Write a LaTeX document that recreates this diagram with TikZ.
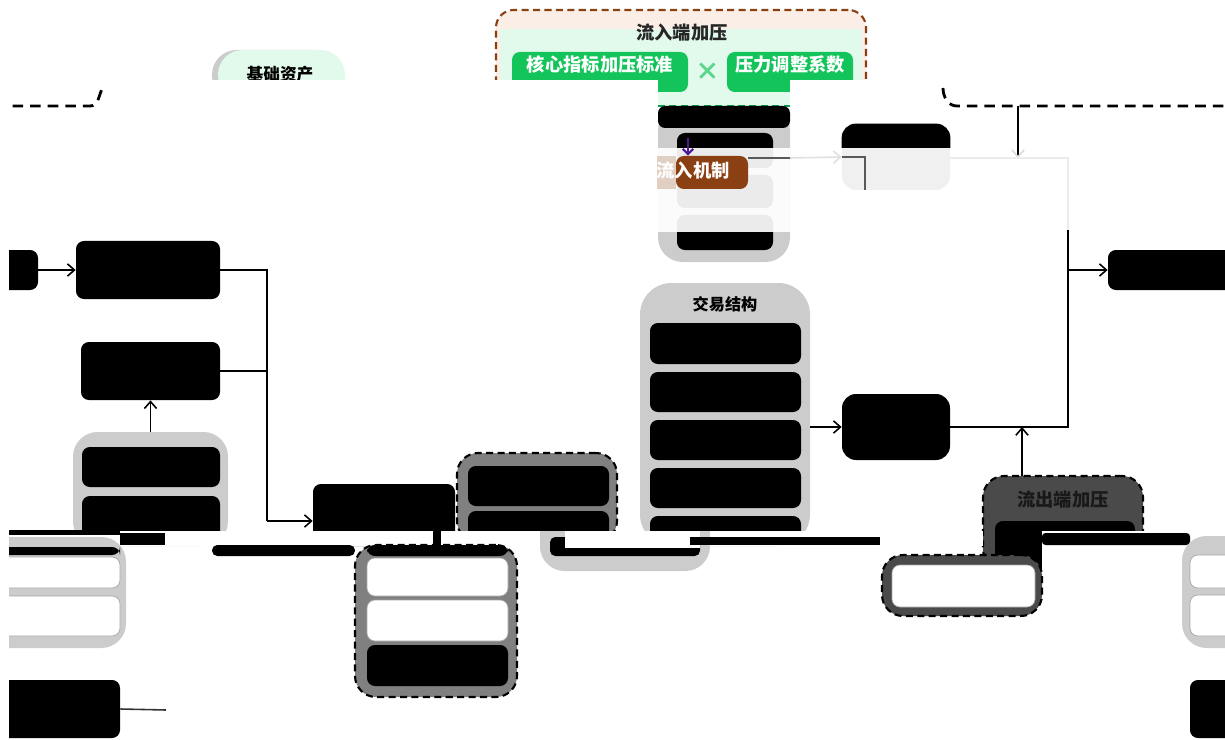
\documentclass[tikz,border=0pt]{standalone}
\usepackage{fontspec}
\setmainfont{Noto Sans CJK SC}
\usetikzlibrary{arrows.meta,fit}

\definecolor{verdeForte}{HTML}{13C45B}
\definecolor{verdeTenue}{HTML}{E2FAEB}
\definecolor{pesca}{HTML}{FBEEE6}
\definecolor{marrone}{HTML}{8A4012}
\definecolor{viola}{HTML}{4A1A99}

\begin{document}
\begin{tikzpicture}[x=0.02cm, y=-0.02cm,
    box/.style={inner sep=0pt, rounded corners=4.5pt, fit={#1}},
    nero/.style={box={#1}, fill=black},
    riga/.style={box={#1}, fill=white, draw=black!35, line width=0.4pt},
    gruppo/.style={box={#1}, fill=black!20, rounded corners=10pt},
    tratto/.style={draw=black, line width=1.2pt, dash pattern=on 4pt off 2.5pt},
    lungo/.style={line width=1.6pt, dash pattern=on 6pt off 4pt},
    titolo/.style={font=\fontsize{10.4}{12}\selectfont\bfseries},
    linea/.style={line width=0.9pt},
    freccia/.style={linea, -{Straight Barb[length=4pt, width=7pt]}},
]
    % Definizione dei colori dei gruppi
    \def\grigioChiaro{black!20}
    \def\grigioMedio{black!50}
    \def\grigioScuro{black!71}

    \useasboundingbox (0,0) rectangle (1225,740);
    \clip (9,0) rectangle (1225,740);

    % Gruppo in alto: flusso in entrata
    \node[box={(496,10) (866,100)}, fill=pesca, rounded corners=10pt, tratto, draw=marrone] (ingressoPress) {};
    \fill[verdeTenue] (500,29) rectangle (862,106);
    \node[titolo, text=black!85] (ingressoTitolo) at (682,33) {流入端加压};
    \node[box={(512,52) (688,92)}, fill=verdeForte, text=white, titolo] (core) {核心指标加压标准};
    \node[box={(727,52) (853,92)}, fill=verdeForte, text=white, titolo] (coeff) {压力调整系数};
    \node[font=\fontsize{14}{14}\selectfont\bfseries, text=verdeForte!70] (per) at (708,72) {×};

    % Attivi di base
    \node[box={(212,50) (335,100)}, fill=\grigioChiaro, rounded corners=14pt] (baseOmbra) {};
    \node[box={(218,50) (345,100)}, fill=verdeTenue, rounded corners=14pt] (base) {};
    \node[titolo, font=\fontsize{9.5}{11}\selectfont\bfseries] (baseTitolo) at (280,74) {基础资产};

    % Banda bianca che taglia la parte alta
    \fill[white] (0,80) rectangle (658,108);
    \fill[white] (790,80) rectangle (1225,108);

    % Meccanismo di entrata
    \node[gruppo={(658,106) (790,262)}, rounded corners=14pt] (meccanismo) {};
    \draw[verdeForte!80!black, line width=1.2pt, dash pattern=on 4pt off 2.5pt] (658,106) -- (790,106);
    \fill[black, rounded corners=4pt] (658,106) rectangle (790,128);
    \node[nero={(677,133) (773,168)}] (m1) {};
    \node[nero={(677,175) (773,208)}] (m2) {};
    \node[nero={(677,215) (773,250)}] (m3) {};
    \fill[white, opacity=0.92] (657,148) rectangle (790,232);
    \fill[marrone!25] (657,156) rectangle (676,189);
    \node[box={(676,156) (748,189)}, fill=marrone] (flusso) {};
    \node[titolo, text=white] (flussoTesto) at (693,171) {流入机制};
    \coordinate (viaInizio) at (688,138);
    \draw[viola, line width=1.2pt, -{Straight Barb[length=3pt, width=6pt]}] (viaInizio) -- (viaInizio |- flusso.north);

    % Esito in alto a destra
    \node[box={(842,124) (950,190)}, fill=black!6, rounded corners=8pt] (esito) {};
    \begin{scope}
        \clip (800,100) rectangle (1000,148);
        \fill[black, rounded corners=8pt] (esito.north west) rectangle (esito.south east);
    \end{scope}
    \coordinate (partenza) at (748,158);
    \coordinate (svolta) at (790,158);
    \coordinate (gomito) at (865,190);
    \draw[linea, black!65] (partenza) -- (svolta);
    \draw[freccia, black!12] (svolta) -- (esito.west);
    \draw[linea, black!65] (esito.west) -| (gomito);

    % Linee tratteggiate in alto
    \draw[lungo] (-5,106) -- (90,106) to[out=0, in=-120] (103,87);
    \draw[lungo] (943,88) to[out=-90, in=180] (957,106) -- (1230,106);
    \coordinate (presa) at (1018,106);
    \coordinate (arrivo) at (1018,158);
    \coordinate (cimaDx) at (1068,230);
    \draw[linea, -{Straight Barb[length=4pt, width=7pt, color=black!15]}] (presa) -- (arrivo);
    \draw[black!8, line width=1pt] (esito.east |- arrivo) -- (arrivo -| cimaDx) -- (cimaDx);

    % Colonna di sinistra
    \node[nero={(-5,250) (38,290)}] (ingresso) {};
    \node[nero={(76,241) (220,299)}] (A) {};
    \node[nero={(81,342) (220,400)}] (B) {};
    \node[gruppo={(73,432) (228,546)}, rounded corners=14pt] (C) {};
    \node[nero={(82,447) (220,487)}] (c1) {};
    \node[nero={(82,496) (220,540)}] (c2) {};
    \draw[freccia] (ingresso) -- (A);
    \draw[freccia] (C.north) -- (B.south);

    % Raccordo verso il centro
    \node[nero={(313,484) (455,546)}] (D) {};
    \coordinate (giunto) at (267,521);
    \draw[linea] (A.east) -| (giunto);
    \draw[linea] (B.east) -- (B.east -| giunto);
    \draw[freccia] (giunto) -- (giunto -| D.west);

    % Gruppo tratteggiato centrale
    \node[box={(457,453) (617,542)}, fill=\grigioMedio, rounded corners=12pt, tratto] (pressione) {};
    \node[nero={(468,466) (609,506)}] (p1) {};
    \node[nero={(468,511) (609,545)}] (p2) {};

    % Struttura della transazione
    \node[gruppo={(640,283) (810,546)}, rounded corners=18pt] (T) {};
    \node[titolo, font=\fontsize{9.2}{11}\selectfont\bfseries] (TTitolo) at (725,304) {交易结构};
    \foreach \ya/\yb [count=\i] in {323/364, 372/412, 420/460, 468/508, 516/545}
        \node[nero={(650,\ya) (801,\yb)}] (t\i) {};
    \node[nero={(842,394) (950,460)}, rounded corners=8pt] (F) {};
    \draw[freccia] (F.west -| T.east) -- (F.west);

    % Uscita a destra
    \node[nero={(1108,250) (1240,290)}] (G) {};
    \coordinate (nodoDx) at (F.east -| cimaDx);
    \draw[linea] (F.east) -- (nodoDx) -- (cimaDx);
    \draw[freccia] (G.west -| cimaDx) -- (G.west);

    % Flusso in uscita
    \node[box={(983,476) (1143,570)}, fill=\grigioScuro, rounded corners=12pt, tratto] (H) {};
    \node[titolo, text=black!90] (HTitolo) at (1063,500) {流出端加压};
    \node[nero={(995,521) (1135,570)}] (h1) {};
    \coordinate (uscita) at (1022,476);
    \draw[freccia] (uscita) -- (uscita |- F.east);

    % Banda bianca in basso
    \fill[white] (0,531) rectangle (983,546);
    \fill[white] (1042,531) rectangle (1225,574);

    % Parte bassa spostata
    \fill[black] (9,530) rectangle (120,535);
    \fill[\grigioChiaro, rounded corners=14pt] (-20,537) -- (126,537) -- (126,648) -- (-20,648);
    \node[nero={(-20,547) (120,555)}] (sb0) {};
    \node[riga={(-20,557) (120,588)}] (sb1) {};
    \node[riga={(-20,596) (120,636)}] (sb2) {};
    \node[nero={(-20,680) (120,738)}] (sinistraFondo) {};
    \coordinate (fineLinea) at (166,710);
    \draw[linea, black!80] (sinistraFondo.east) -- (fineLinea);
    \fill[black] (120,533) rectangle (165,545);
    \fill[black, rounded corners=3pt] (212,545) rectangle (355,556);

    \node[box={(355,545) (517,697)}, fill=\grigioMedio, rounded corners=12pt, tratto] (pressioneBasso) {};
    \node[nero={(367,545) (508,556)}] (pb0) {};
    \node[riga={(367,558) (508,596)}] (pb1) {};
    \node[riga={(367,600) (508,641)}] (pb2) {};
    \node[nero={(367,645) (508,686)}] (pb3) {};
    \fill[black] (433,531) rectangle (441,545);

    \fill[\grigioChiaro, rounded corners=14pt] (540,531) -- (540,571) -- (710,571) -- (710,531);
    \fill[black, rounded corners=3pt] (550,537) rectangle (700,556);
    \fill[white] (565,531) rectangle (700,548);
    \fill[black] (690,537) rectangle (880,545);

    \node[box={(882,555) (1042,616)}, fill=\grigioScuro, rounded corners=12pt, tratto] (uscitaBasso) {};
    \node[riga={(892,565) (1035,607)}] (ub1) {};
    \fill[black, rounded corners=2pt] (1042,533) rectangle (1190,545);

    \fill[\grigioChiaro, rounded corners=14pt] (1240,536) -- (1182,536) -- (1182,648) -- (1240,648);
    \node[riga={(1190,555) (1240,588)}] (db1) {};
    \node[riga={(1190,595) (1240,636)}] (db2) {};
    \node[nero={(1190,680) (1240,738)}] (destraFondo) {};

\end{tikzpicture}
\end{document}
